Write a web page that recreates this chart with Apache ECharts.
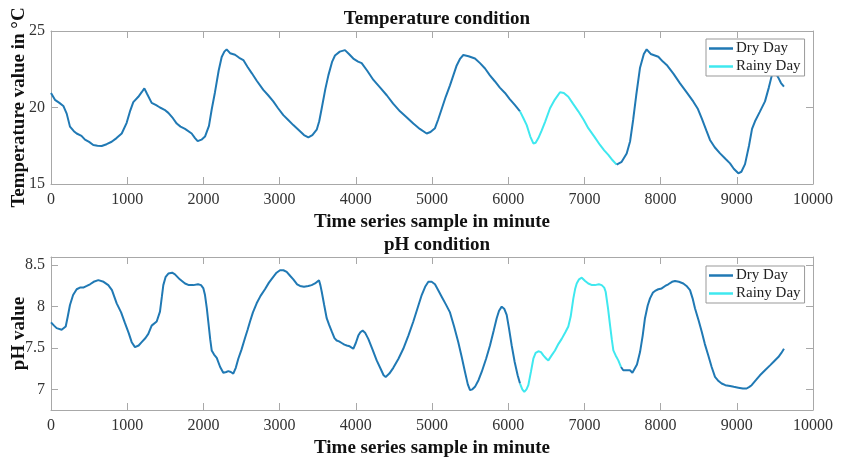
<!DOCTYPE html>
<html>
<head>
<meta charset="utf-8">
<script src="https://cdn.jsdelivr.net/npm/echarts@6/dist/echarts.min.js"></script>
<style>html,body{margin:0;padding:0;background:#fff;}#c{width:841px;height:460px;}</style>
</head>
<body>
<div id="c"></div>
<script>
// ---------- data ----------
const xTicks = [0,1000,2000,3000,4000,5000,6000,7000,8000,9000,10000];
const tempTicks = [15,20,25];
const phTicks = [7,7.5,8,8.5];

const tempDry1 = [[0,20.95],[52,20.5],[110,20.3],[162,20.1],[206,19.6],[249,18.75],[300,18.45],[337,18.3],[400,18.15],[446,17.9],[500,17.75],[555,17.55],[610,17.5],[665,17.48],[730,17.6],[796,17.76],[860,18.0],[928,18.3],[993,19.0],[1040,19.8],[1080,20.35],[1146,20.7],[1190,21.0],[1225,21.25],[1260,20.9],[1321,20.3],[1380,20.15],[1430,20.0],[1490,19.85],[1540,19.65],[1600,19.3],[1650,18.95],[1700,18.75],[1759,18.6],[1846,18.3],[1890,18.0],[1925,17.8],[1975,17.9],[2021,18.1],[2073,18.8],[2110,19.9],[2152,21.0],[2200,22.4],[2240,23.3],[2275,23.65],[2305,23.8],[2350,23.55],[2415,23.45],[2470,23.25],[2524,23.1],[2580,22.65],[2634,22.25],[2700,21.75],[2786,21.15],[2850,20.8],[2917,20.4],[2980,19.95],[3049,19.5],[3110,19.2],[3180,18.85],[3268,18.45],[3320,18.2],[3377,18.05],[3430,18.2],[3487,18.55],[3520,19.1],[3553,19.95],[3600,21.2],[3640,22.1],[3690,23.0],[3727,23.4],[3790,23.65],[3858,23.75],[3910,23.5],[3967,23.2],[4030,23.0],[4077,22.9],[4150,22.4],[4231,21.8],[4320,21.3],[4406,20.8],[4490,20.25],[4580,19.75],[4670,19.35],[4755,18.95],[4840,18.6],[4930,18.3],[4980,18.4],[5039,18.65],[5080,19.2],[5127,19.9],[5180,20.7],[5236,21.45],[5280,22.1],[5324,22.75],[5370,23.2],[5411,23.43],[5480,23.35],[5564,23.2],[5630,22.9],[5696,22.55],[5760,22.1],[5827,21.7],[5890,21.3],[5958,20.95],[6020,20.55],[6089,20.15],[6155,19.75]];
const tempRainy = [[6155,19.75],[6200,19.3],[6243,18.85],[6290,18.1],[6330,17.65],[6360,17.7],[6396,18.0],[6440,18.5],[6483,19.05],[6549,19.95],[6610,20.5],[6680,21.0],[6730,20.95],[6789,20.7],[6850,20.25],[6920,19.75],[6990,19.2],[7051,18.65],[7130,18.1],[7205,17.55],[7260,17.2],[7314,16.9],[7370,16.55],[7423,16.27]];
const tempDry2 = [[7423,16.27],[7489,16.45],[7555,17.0],[7600,17.8],[7640,19.2],[7680,20.8],[7730,22.6],[7780,23.5],[7817,23.8],[7870,23.5],[7970,23.32],[8030,23.0],[8080,22.78],[8170,22.2],[8255,21.58],[8340,21.0],[8430,20.38],[8490,19.9],[8540,19.29],[8600,18.5],[8648,17.88],[8710,17.4],[8780,17.0],[8850,16.65],[8911,16.35],[8960,16.0],[9020,15.7],[9060,15.8],[9108,16.3],[9160,17.5],[9200,18.6],[9239,19.1],[9300,19.7],[9370,20.4],[9420,21.3],[9460,22.1],[9495,22.4],[9545,21.95],[9580,21.6],[9619,21.36]];

const phDry1 = [[0,7.81],[40,7.77],[74,7.74],[140,7.72],[193,7.76],[220,7.88],[249,8.02],[290,8.14],[337,8.21],[380,8.23],[424,8.23],[470,8.25],[512,8.27],[560,8.3],[621,8.32],[690,8.3],[752,8.26],[800,8.2],[862,8.04],[920,7.93],[971,7.8],[1020,7.68],[1059,7.57],[1102,7.51],[1150,7.53],[1190,7.57],[1240,7.62],[1277,7.67],[1321,7.77],[1387,7.82],[1430,7.94],[1455,8.12],[1474,8.26],[1505,8.36],[1540,8.4],[1590,8.41],[1627,8.39],[1690,8.33],[1759,8.28],[1810,8.26],[1868,8.26],[1930,8.27],[1969,8.26],[2000,8.22],[2021,8.14],[2045,7.98],[2064,7.82],[2090,7.6],[2109,7.47],[2140,7.42],[2175,7.38],[2220,7.27],[2261,7.2],[2300,7.21],[2327,7.22],[2360,7.21],[2392,7.19],[2425,7.26],[2458,7.37],[2500,7.48],[2546,7.62],[2580,7.72],[2612,7.82],[2650,7.93],[2699,8.04],[2750,8.13],[2808,8.21],[2860,8.29],[2917,8.36],[2960,8.41],[3005,8.44],[3050,8.44],[3093,8.42],[3140,8.37],[3180,8.33],[3230,8.27],[3268,8.25],[3320,8.24],[3377,8.25],[3420,8.26],[3465,8.28],[3517,8.32],[3535,8.26],[3553,8.18],[3585,8.02],[3618,7.86],[3650,7.78],[3684,7.7],[3720,7.62],[3749,7.59],[3780,7.58],[3815,7.56],[3850,7.54],[3881,7.53],[3920,7.52],[3967,7.49],[4000,7.56],[4033,7.65],[4060,7.69],[4090,7.71],[4125,7.68],[4164,7.61],[4220,7.48],[4274,7.35],[4330,7.24],[4365,7.17],[4392,7.15],[4440,7.19],[4492,7.26],[4560,7.37],[4623,7.49],[4690,7.65],[4755,7.82],[4810,7.98],[4865,8.14],[4910,8.24],[4952,8.3],[4995,8.3],[5039,8.27],[5080,8.2],[5127,8.12],[5180,8.03],[5236,7.93],[5290,7.76],[5345,7.57],[5390,7.39],[5433,7.21],[5470,7.06],[5499,6.99],[5530,7.0],[5564,7.03],[5610,7.11],[5652,7.21],[5710,7.37],[5761,7.53],[5810,7.71],[5849,7.86],[5880,7.95],[5915,8.0],[5950,7.97],[5980,7.9],[6010,7.74],[6046,7.53],[6085,7.33],[6124,7.17],[6155,7.07]];
const phRainy = [[6155,7.07],[6185,7.0],[6211,6.97],[6240,7.0],[6264,7.05],[6300,7.22],[6330,7.37],[6360,7.44],[6396,7.46],[6430,7.45],[6461,7.41],[6500,7.37],[6527,7.35],[6570,7.41],[6614,7.47],[6660,7.55],[6702,7.61],[6750,7.69],[6789,7.76],[6820,7.88],[6855,8.1],[6880,8.22],[6899,8.28],[6930,8.33],[6965,8.35],[7010,8.31],[7051,8.28],[7100,8.26],[7139,8.26],[7190,8.27],[7227,8.26],[7260,8.23],[7279,8.18],[7310,7.98],[7336,7.78],[7360,7.6],[7380,7.47],[7410,7.41],[7445,7.35],[7480,7.27]];
const phDry2 = [[7480,7.27],[7510,7.23],[7533,7.22],[7570,7.23],[7598,7.23],[7630,7.2],[7651,7.19],[7690,7.3],[7730,7.45],[7765,7.65],[7795,7.86],[7830,8.01],[7861,8.1],[7900,8.17],[7927,8.19],[7970,8.21],[8014,8.22],[8060,8.25],[8101,8.27],[8150,8.3],[8189,8.31],[8240,8.3],[8298,8.28],[8340,8.25],[8386,8.2],[8420,8.1],[8451,7.98],[8500,7.83],[8539,7.7],[8580,7.55],[8626,7.41],[8670,7.27],[8714,7.15],[8760,7.1],[8801,7.07],[8850,7.05],[8911,7.04],[8960,7.03],[9020,7.02],[9080,7.01],[9129,7.01],[9165,7.03],[9195,7.05],[9250,7.11],[9304,7.17],[9370,7.23],[9436,7.29],[9490,7.34],[9545,7.39],[9585,7.44],[9619,7.49]];

// ---------- styles ----------
const DRY = '#2079b4';
const RAINY = '#3fe8ef';
const AXIS = '#a8a8a8';
const SERIF = 'Liberation Serif';
const TXT = '#333';
const plain = v => String(v);

function xAx(grid, pos, withLabel) {
  return {
    type: 'value', gridIndex: grid, position: pos, min: 0, max: 10000, interval: 1000,
    axisLine: { show: true, onZero: false, lineStyle: { color: AXIS, width: 1 } },
    axisTick: { show: true, inside: true, length: 7, lineStyle: { color: AXIS } },
    axisLabel: { show: withLabel, margin: 8, fontSize: 16, fontFamily: SERIF, color: TXT,
      formatter: plain, customValues: xTicks },
    splitLine: { show: false },
    name: withLabel ? 'Time series sample in minute' : '',
    nameLocation: 'middle', nameGap: 29, nameMoveOverlap: false,
    nameTextStyle: { fontSize: 19, fontWeight: 'bold', fontFamily: SERIF, color: '#111' }
  };
}
function yAx(grid, pos, withLabel, min, max, ticks, name) {
  return {
    type: 'value', gridIndex: grid, position: pos, min: min, max: max,
    axisLine: { show: true, onZero: false, lineStyle: { color: AXIS, width: 1 } },
    axisTick: { show: true, inside: true, length: 7, lineStyle: { color: AXIS }, customValues: ticks },
    axisLabel: { show: withLabel, margin: 6, fontSize: 16, fontFamily: SERIF, color: TXT,
      formatter: plain, customValues: ticks },
    splitLine: { show: false },
    name: withLabel ? name : '',
    nameLocation: 'middle', nameGap: 22, nameMoveOverlap: false,
    nameTextStyle: { fontSize: 19, fontWeight: 'bold', fontFamily: SERIF, color: '#111' }
  };
}
function line(name, color, data, xi, yi) {
  return { type: 'line', name: name, data: data, xAxisIndex: xi, yAxisIndex: yi,
    showSymbol: false, symbol: 'none', lineStyle: { color: color, width: 2 }, itemStyle: { color: color },
    animation: false, z: 2 };
}
function legend(top) {
  return {
    orient: 'vertical', left: 706, top: top, width: 98,
    data: [{ name: 'Dry Day', icon: 'rect' }, { name: 'Rainy Day', icon: 'rect' }],
    itemWidth: 24, itemHeight: 2.5, itemGap: 3,
    padding: [2, 4, 2, 3],
    backgroundColor: '#fff', borderColor: '#999', borderWidth: 1,
    textStyle: { fontSize: 15, fontFamily: SERIF, color: '#222', padding: [0, 0, 0, -2] },
    selectedMode: false
  };
}

const chart = echarts.init(document.getElementById('c'), null, { renderer: 'canvas' });
chart.setOption({
  animation: false,
  backgroundColor: '#fff',
  title: [
    { text: 'Temperature condition', left: 432, top: 5, textAlign: 'center',
      textStyle: { fontSize: 19, fontWeight: 'bold', fontFamily: SERIF, color: '#111' } },
    { text: 'pH condition', left: 432, top: 231, textAlign: 'center',
      textStyle: { fontSize: 19, fontWeight: 'bold', fontFamily: SERIF, color: '#111' } }
  ],
  legend: [legend(39), legend(266)],
  grid: [
    { left: 51, top: 31, width: 762, height: 153, containLabel: false, outerBoundsMode: 'none' },
    { left: 51, top: 257, width: 762, height: 153, containLabel: false, outerBoundsMode: 'none' }
  ],
  xAxis: [xAx(0, 'bottom', true), xAx(0, 'top', false), xAx(1, 'bottom', true), xAx(1, 'top', false)],
  yAxis: [
    yAx(0, 'left', true, 15, 25, tempTicks, 'Temperature value in °C'),
    yAx(0, 'right', false, 15, 25, tempTicks, ''),
    yAx(1, 'left', true, 6.75, 8.6, phTicks, 'pH value'),
    yAx(1, 'right', false, 6.75, 8.6, phTicks, '')
  ],
  series: [
    line('Dry Day', DRY, tempDry1, 0, 0),
    line('Rainy Day', RAINY, tempRainy, 0, 0),
    line('Dry Day', DRY, tempDry2, 0, 0),
    line('Dry Day', DRY, phDry1, 2, 2),
    line('Rainy Day', RAINY, phRainy, 2, 2),
    line('Dry Day', DRY, phDry2, 2, 2)
  ]
});
</script>
</body>
</html>
